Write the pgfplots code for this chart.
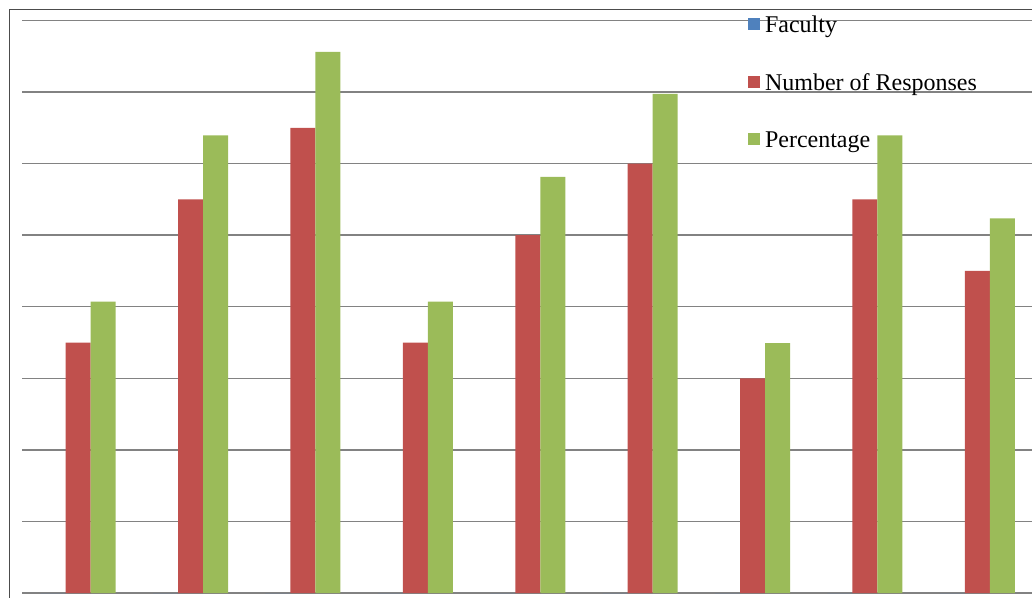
\documentclass[border=0pt]{standalone}
\usepackage{pgfplots}
\pgfplotsset{compat=1.18}
\usepackage{fontspec}
\setmainfont{Liberation Serif}
\definecolor{facblue}{HTML}{4F81BD}
\definecolor{resred}{HTML}{C0504D}
\definecolor{pctgreen}{HTML}{9BBB59}
\definecolor{gridgray}{HTML}{828282}

\begin{document}
\begin{tikzpicture}[x=1pt,y=1pt]
\useasboundingbox (0,0) rectangle (1032,597);
\clip (0,0) rectangle (1032,597);
\begin{axis}[
  at={(22pt,4pt)}, anchor=south west,
  scale only axis, width=1011.6pt, height=572.5pt,
  xmin=0.5, xmax=9.5, ymin=0, ymax=16,
  xtick=\empty, ytick={0,2,...,16}, yticklabels={},
  axis line style={draw=none}, tick style={draw=none},
  ymajorgrids, grid style={gridgray, line width=1.5pt},
  ybar=0pt, bar width=25pt,
  legend cell align=left,
  legend style={at={(0.7177,1.0068)}, anchor=north west,
    draw=none, fill=none, inner sep=0pt, outer sep=0pt,
    font=\fontsize{24}{28}\selectfont,
    nodes={inner sep=0pt, text height=16pt, text depth=5pt},
    row sep=36.5pt},
  sq/.style={legend image code/.code={
    \fill[#1] (0pt,-3pt) rectangle (12pt,9pt);
    \path (17pt,0pt);}},
]
\addplot[fill=facblue, draw=none, sq=facblue]
  coordinates {(1,0) (2,0) (3,0) (4,0) (5,0) (6,0) (7,0) (8,0) (9,0)};
\addlegendentry{Faculty}
\addplot[fill=resred, draw=none, sq=resred]
  coordinates {(1,7) (2,11) (3,13) (4,7) (5,10) (6,12) (7,6) (8,11) (9,9)};
\addlegendentry{Number of Responses}
\addplot[fill=pctgreen, draw=none, sq=pctgreen]
  coordinates {(1,8.14) (2,12.79) (3,15.12) (4,8.14) (5,11.63) (6,13.95) (7,6.98) (8,12.79) (9,10.47)};
\addlegendentry{Percentage}
\end{axis}
% chart frame
\draw[black!70, line width=1pt] (9,587) rectangle (1060,-10);
\end{tikzpicture}
\end{document}
